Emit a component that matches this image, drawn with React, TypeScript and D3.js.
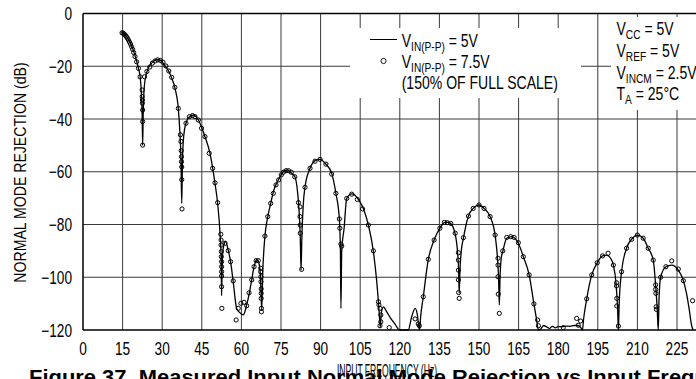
import React from "react";
import * as d3 from "d3";

const xTicks = [0, 15, 30, 45, 60, 75, 90, 105, 120, 135, 150, 165, 180, 195, 210, 225];
const yTicks = [0, -20, -40, -60, -80, -100, -120];

// solid line: V_IN(P-P) = 5V  [frequency Hz, rejection dB]
const lineSeries: [number, number][] = [
  [14.8,-7.1],[16,-8],[17,-9.5],[18,-11.3],[19,-13.8],[20,-17],[21,-20.8],[21.7,-24.5],[22.1,-30],[22.4,-38],[22.6,-50],[22.8,-38],[23.2,-28],[23.9,-23.3],[25,-20.2],[26.5,-18.3],[28,-17.5],[29.5,-17.8],[31,-19.8],[32.5,-22],[33.6,-24.5],[35,-29],[36,-35],[36.7,-45],[37.1,-55],[37.4,-72],[37.7,-55],[38.2,-46],[39,-41.6],[40.5,-39],[41.8,-38.5],[43,-39.3],[44.3,-41.6],[46.2,-46.7],[48.1,-53],[50,-64.4],[51,-72],[51.9,-83.3],[52.3,-92],[52.5,-107],[52.8,-92],[53.3,-88],[54,-86.5],[55,-89.7],[55.9,-94.1],[56.9,-101.7],[58.2,-111.8],[59.5,-113.5],[60.7,-114.3],[62,-110.5],[63,-106],[63.9,-101],[64.8,-96],[65.8,-93.3],[66.6,-94.5],[67.2,-99],[67.7,-112.4],[68.1,-98],[68.9,-84.6],[70,-77],[71.1,-72],[72.3,-66.9],[74,-63.1],[75.9,-60],[77.4,-59.3],[79,-60.6],[80.3,-62],[81.2,-67],[81.8,-74],[82.3,-85],[82.6,-97.3],[82.9,-85],[83.4,-73],[84.1,-65.7],[86,-58.7],[87.9,-55.8],[89.8,-55.3],[92,-57.1],[94.2,-60.6],[95.8,-68.2],[97.1,-77.7],[97.5,-90],[97.7,-111.8],[98,-90],[98.9,-81.4],[99.9,-70.1],[101.8,-68.4],[102.4,-68.5],[104.3,-70.5],[106.2,-73.9],[108.1,-80.2],[110,-90.3],[111.2,-101],[111.9,-109.3],[112.3,-115],[112.6,-119],[113,-113.5],[113.8,-111.2],[115,-113],[116.5,-115.5],[118,-117.5],[120,-120],[123.2,-120],[124.5,-115],[125.8,-111.8],[126.6,-114],[127.2,-118.5],[127.5,-120],[127.9,-115],[128.9,-107.4],[130.8,-93.2],[133,-85.9],[135.2,-81.4],[137.1,-79.2],[138.4,-79.2],[139.3,-79.6],[140.9,-83.3],[141.9,-90.9],[142.3,-98],[142.5,-106.1],[142.8,-97],[143.3,-90],[144.1,-85.2],[146,-76.8],[147.8,-73.9],[150,-72.6],[151.9,-73.9],[154.2,-77],[156.1,-84],[157,-92.8],[157.4,-100],[157.7,-110.5],[158,-99],[158.4,-93],[159,-90.3],[160.5,-85.2],[162.4,-84.6],[164.9,-87.1],[166.8,-92.2],[169,-99.1],[170.8,-110.1],[171.8,-116],[172.5,-120],[173.5,-119.5],[174.5,-118.3],[175.6,-118.8],[176.7,-119.4],[177.8,-118.6],[178.9,-119.2],[180,-118.7],[181.5,-118.8],[183,-118.5],[184.5,-118.6],[186,-118.3],[187.5,-118.3],[188.5,-119],[189.2,-120],[189.6,-116],[190.8,-108.2],[192.7,-99.1],[194.8,-94.5],[196.8,-91.9],[198.4,-91.6],[199.8,-92.7],[200.9,-95.4],[201.9,-102.3],[202.5,-112],[202.8,-120],[203.1,-110],[204,-97.9],[205.9,-89],[207.8,-85.6],[210,-84],[212.2,-85.2],[214.1,-89],[216,-93.5],[216.9,-102.9],[217.5,-112],[217.9,-120],[218.2,-108],[218.8,-100],[220.8,-96],[223,-95.4],[225.5,-97.3],[227.1,-100.4],[228.6,-106.1],[229.6,-112],[230.5,-118.1],[231.1,-120]
];

// circles: V_IN(P-P) = 7.5V  [frequency Hz, rejection dB]
const circleSeries: [number, number][] = [
  [14.8,-7.3],[15.2,-7.5],[15.6,-7.8],[16,-8.2],[16.4,-8.7],[16.8,-9.3],[17.2,-10],[17.6,-10.8],[18,-11.6],[18.4,-12.6],[18.8,-13.6],[19.2,-14.8],[19.7,-16.3],[20.3,-18.3],[21,-20.8],[21.6,-24],[22.4,-29],[22.4,-31.5],[22.5,-32.8],[22.5,-34],[22.6,-36.6],[22.6,-41],[22.6,-49.9],[23.3,-24],[24.2,-22],[25.3,-20.3],[26.3,-18.8],[27.3,-18],[28.3,-17.6],[29.3,-17.8],[30.3,-18.5],[31.4,-19.9],[32.5,-21.8],[33.6,-24.2],[34.8,-28],[36.1,-36],[36.9,-46],[37.1,-48.5],[37.2,-52],[37.3,-54.3],[37.3,-56.2],[37.4,-58.2],[37.4,-63],[37.5,-74.1],[39,-41.6],[40.3,-39.1],[41.5,-38.7],[42.4,-39.1],[43.7,-40.4],[44.9,-43.5],[46.2,-46.7],[47.8,-53],[49.1,-58.7],[50,-64.2],[51,-71.7],[52.2,-83.7],[52.3,-85.9],[52.3,-87.8],[52.4,-90.3],[52.4,-92.2],[52.5,-94.1],[52.5,-96],[52.5,-97.9],[52.5,-99.5],[52.5,-103.6],[52.6,-111.8],[53.8,-87.1],[55,-89.9],[55.9,-94.1],[56.9,-101.4],[58,-116.2],[58.8,-111.8],[59.8,-109.9],[61,-109.5],[62,-110.8],[62.9,-105.9],[63.9,-101],[64.8,-96],[65.6,-93.7],[66.4,-93.7],[67.3,-96.6],[67.3,-97.9],[67.4,-99.8],[67.4,-101.7],[67.5,-104.4],[67.5,-106.1],[67.5,-108],[67.6,-111.8],[67.6,-113.1],[68.9,-84.4],[70,-77],[71.1,-72],[72.1,-68.2],[73.1,-65],[74.1,-63.1],[75.1,-61.2],[75.9,-60.2],[76.9,-59.6],[77.9,-59.6],[78.9,-60.2],[80.2,-61.9],[81.6,-71.7],[82.2,-73.3],[82.2,-77],[82.3,-80.2],[82.3,-83.3],[82.8,-97],[84.1,-65.9],[86,-58.7],[87.9,-56],[89.8,-55.3],[92,-57.1],[94.2,-60.9],[95.8,-68.2],[97.1,-77.9],[97.3,-81.4],[97.7,-87.4],[98,-88.2],[99.9,-70.1],[101.8,-68.5],[103.9,-70.5],[105.9,-74.1],[108.1,-80.2],[110,-90],[111.9,-109.3],[112.1,-110.5],[112.5,-111.8],[112.8,-114.3],[112.8,-116.9],[112.5,-118.4],[116,-119.1],[125.8,-115.8],[127,-117.7],[127.4,-118.4],[128.9,-107.4],[130.8,-93.2],[133,-85.9],[135.2,-81.4],[136.9,-79.2],[138,-79.3],[139.3,-79.6],[141,-83.3],[142.2,-90.7],[142.2,-93.5],[142.2,-97.3],[142.2,-101],[142.3,-105.8],[142.5,-108],[144.1,-85],[146,-76.8],[147.8,-73.9],[150,-72.6],[151.9,-73.9],[154.2,-77],[156.1,-84],[157.2,-92.8],[157.2,-95.4],[157.2,-99.8],[157.3,-106.4],[157.7,-113.7],[159,-90],[160.5,-84.9],[162,-84.6],[163.3,-84.9],[164.9,-86.9],[166.8,-92.2],[169,-99.1],[170.8,-110.1],[172.2,-116.2],[172.5,-118.4],[181.9,-119.1],[187,-115.6],[188.5,-116.6],[187.6,-118.2],[190.8,-108.2],[192.7,-99.1],[194.8,-94.5],[196.8,-91.9],[198.9,-90.9],[200.9,-95.4],[202.1,-102.1],[202.1,-103.3],[202.2,-108],[202.2,-110.9],[202.8,-118.5],[204,-97.9],[205.9,-89],[207.8,-85.6],[210,-84],[212.2,-85.2],[214.1,-89],[216,-93.5],[216.9,-102.9],[216.9,-104.6],[217,-106.1],[217.1,-111.2],[217.2,-112.2],[218.8,-100],[220.8,-96],[223,-93.8],[225.5,-96.9],[227.4,-101.3],[230.9,-108.9]
];

const FONT = "'Liberation Sans', Arial, Helvetica, sans-serif";

function CText(props: {
  x: number; y: number; sx?: number; size?: number; anchor?: string; weight?: string; rotate?: number; children: React.ReactNode;
}) {
  const { x, y, sx = 0.76, size = 18, anchor = "start", weight = "normal", rotate = 0, children } = props;
  return (
    <g transform={`translate(${x},${y}) rotate(${rotate}) scale(${sx},1)`}>
      <text x={0} y={0} fontFamily={FONT} fontSize={size} fontWeight={weight} textAnchor={anchor as any} fill="#000">
        {children}
      </text>
    </g>
  );
}

function Sub({ children }: { children: React.ReactNode }) {
  return (
    <tspan fontSize={13} dy={4}>{children}</tspan>
  );
}

export default function App() {
  const W = 696, H = 379;
  const x = d3.scaleLinear().domain([0, 240]).range([83, 716.6]);
  const y = d3.scaleLinear().domain([0, -120]).range([13.5, 330]);

  const line = d3.line<[number, number]>()
    .x(d => x(d[0]))
    .y(d => y(d[1]))
    .curve(d3.curveMonotoneX);

  const gridX = d3.range(15, 241, 15);
  const gridY = [-20, -40, -60, -80, -100];

  return (
    <svg width={W} height={H} style={{ position: "absolute", left: 0, top: 0, background: "#fff" }}>
      <rect x={0} y={0} width={W} height={H} fill="#fff" />
      {/* grid */}
      {gridX.map(v => (
        <line key={"gx" + v} x1={x(v)} x2={x(v)} y1={y(0)} y2={y(-120)} stroke="#3a3a3a" strokeWidth={1} />
      ))}
      {gridY.map(v => (
        <line key={"gy" + v} x1={x(0)} x2={x(240)} y1={y(v)} y2={y(v)} stroke="#3a3a3a" strokeWidth={1} />
      ))}
      {/* white boxes behind legend / conditions */}
      <rect x={350} y={28} width={231} height={70} fill="#fff" />
      <rect x={611} y={17} width={100} height={93} fill="#fff" />
      {/* frame */}
      <line x1={x(0)} x2={x(240)} y1={y(0)} y2={y(0)} stroke="#000" strokeWidth={1.5} />
      <line x1={x(0)} x2={x(240)} y1={y(-120)} y2={y(-120)} stroke="#000" strokeWidth={1.5} />
      <line x1={x(0)} x2={x(0)} y1={y(0)} y2={y(-120)} stroke="#000" strokeWidth={1.5} />

      {/* data */}
      <path d={line(lineSeries) || ""} fill="none" stroke="#000" strokeWidth={1.3} />
      {circleSeries.map((d, i) => (
        <circle key={"c" + i} cx={x(d[0])} cy={y(d[1])} r={2.1} fill="none" stroke="#000" strokeWidth={1} />
      ))}

      {/* y ticks */}
      {yTicks.map(v => (
        <CText key={"yt" + v} x={72} y={y(v) + 6.5} anchor="end">{v === 0 ? "0" : "\u2212" + Math.abs(v)}</CText>
      ))}
      {/* x ticks */}
      {xTicks.map(v => (
        <CText key={"xt" + v} x={x(v)} y={354.5} anchor="middle">{String(v)}</CText>
      ))}

      {/* y label */}
      <CText x={26} y={172.5} rotate={-90} anchor="middle" size={17} sx={0.83}>NORMAL MODE REJECTION (dB)</CText>

      {/* title */}
      <CText x={29} y={384} anchor="start" size={21} weight="bold" sx={1.045}>Figure 37. Measured Input Normal Mode Rejection vs Input Frequency</CText>
      {/* x label */}
      <CText x={387} y={377} anchor="middle" size={17.5} sx={0.49}>INPUT FREQUENCY (Hz)</CText>

      {/* legend */}
      <line x1={370} x2={397} y1={39.5} y2={39.5} stroke="#000" strokeWidth={1} />
      <circle cx={383.5} cy={61} r={2.6} fill="none" stroke="#000" strokeWidth={0.9} />
      <CText x={401.7} y={46.5} sx={0.78}>V<Sub>IN(P-P)</Sub><tspan dy={-4}> = 5V</tspan></CText>
      <CText x={401.7} y={68} sx={0.78}>V<Sub>IN(P-P)</Sub><tspan dy={-4}> = 7.5V</tspan></CText>
      <CText x={401.7} y={88.5} sx={0.78}>(150% OF FULL SCALE)</CText>

      {/* conditions */}
      <CText x={616.5} y={35} sx={0.78}>V<Sub>CC</Sub><tspan dy={-4}> = 5V</tspan></CText>
      <CText x={616.5} y={56.7} sx={0.78}>V<Sub>REF</Sub><tspan dy={-4}> = 5V</tspan></CText>
      <CText x={616.5} y={79.3} sx={0.78}>V<Sub>INCM</Sub><tspan dy={-4}> = 2.5V</tspan></CText>
      <CText x={616.5} y={100} sx={0.78}>T<Sub>A</Sub><tspan dy={-4}> = 25°C</tspan></CText>
    </svg>
  );
}
